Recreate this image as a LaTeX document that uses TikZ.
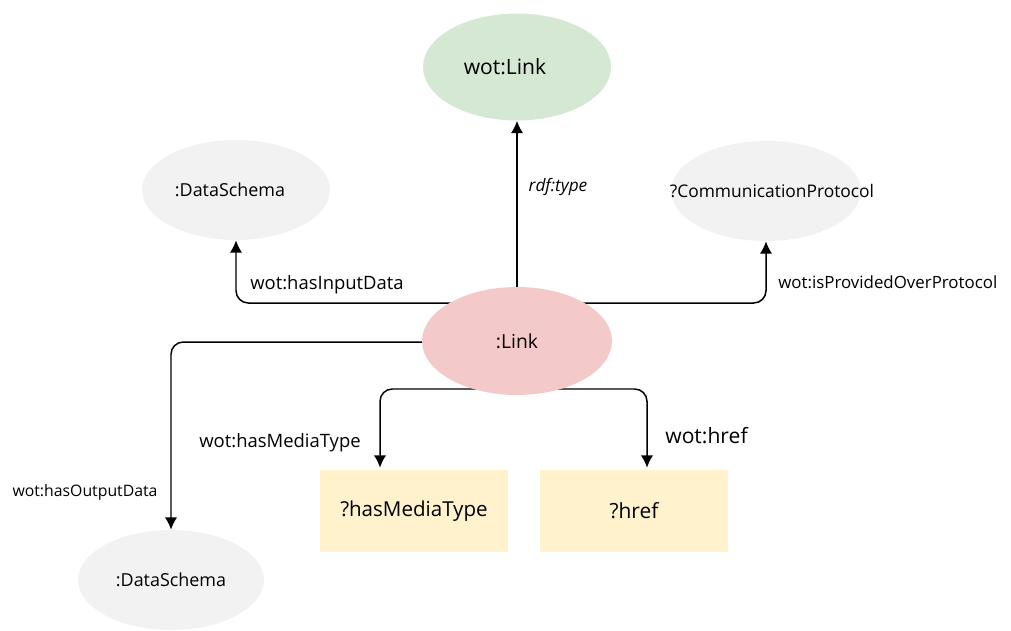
\documentclass[tikz,border=0pt]{standalone}
\usepackage{fontspec}
\setmainfont{Open Sans}
\usetikzlibrary{arrows.meta,shapes.geometric,backgrounds}
\definecolor{gfill}{HTML}{D5E8D4}
\definecolor{pfill}{HTML}{F4C9C9}
\definecolor{lgray}{HTML}{F2F2F2}
\definecolor{yfill}{HTML}{FFF2CC}
\newcommand{\fs}[1]{\fontsize{#1}{#1}\selectfont}
\tikzset{
  ell/.style={ellipse, draw=none, inner sep=0pt},
  box/.style={rectangle, fill=yfill, draw=none, minimum width=3.76cm, minimum height=1.64cm, inner sep=0pt},
  conn/.style={draw=black, line width=0.85pt, -{Latex[length=7pt,width=7pt]}, rounded corners=7pt},
  lab/.style={inner sep=0pt, text=black},
}
\begin{document}
\begin{tikzpicture}[x=0.02cm,y=-0.02cm]
\useasboundingbox (0,0) rectangle (1011,630);
% nodes
\node[ell, fill=gfill, minimum width=3.76cm, minimum height=2.14cm,
  label={[font=\fs{12}, xshift=-0.24cm]center:{wot:Link}}] (wotlink) at (517,67) {};
\node[ell, fill=lgray, minimum width=3.76cm, minimum height=2.0cm,
  label={[font=\fs{10.2}, xshift=-0.12cm]center:{:DataSchema}}] (ds1) at (236,190) {};
\node[ell, fill=lgray, minimum width=3.8cm, minimum height=2.0cm,
  label={[font=\fs{9.9}, xshift=0.12cm]center:{?CommunicationProtocol}}] (proto) at (766,191) {};
\node[ell, fill=pfill, minimum width=3.8cm, minimum height=2.16cm,
  label={[font=\fs{11}]center:{:Link}}] (link) at (517,341) {};
\node[ell, fill=lgray, minimum width=3.72cm, minimum height=2.0cm,
  label={[font=\fs{10.2}]center:{:DataSchema}}] (ds2) at (171,580) {};
\node[box, font=\fs{11.7}] (mt) at (414,511) {?hasMediaType};
\node[box, font=\fs{11.9}] (hr) at (634,511) {?href};
% connectors
\begin{scope}[on background layer]
\draw[conn] (link.north) -- (wotlink.south);
\draw[conn] ([yshift=0.76cm]link.center) -| (ds1.south);
\draw[conn] ([yshift=0.76cm]link.center) -| (proto.south);
\draw[conn] ([yshift=-0.02cm]link.center) -| (ds2.north);
\draw[conn] ([yshift=-0.96cm]link.center) -| ([xshift=-0.68cm,yshift=0.04cm]mt.north);
\draw[conn] ([yshift=-0.96cm]link.center) -| ([xshift=0.26cm,yshift=0.04cm]hr.north);
\end{scope}
% connector labels
\node[lab, font=\fs{9.8}\itshape] (l1) at (558,187) {rdf:type};
\node[lab, font=\fs{10.5}] (l2) at (327,285) {wot:hasInputData};
\node[lab, font=\fs{9.6}, anchor=west] (l3) at (778,282) {wot:isProvidedOverProtocol};
\node[lab, font=\fs{9}] (l4) at (85,492) {wot:hasOutputData};
\node[lab, font=\fs{10.5}] (l5) at (280,443) {wot:hasMediaType};
\node[lab, font=\fs{12}, anchor=west] (l6) at (665,436) {wot:href};
\end{tikzpicture}
\end{document}
